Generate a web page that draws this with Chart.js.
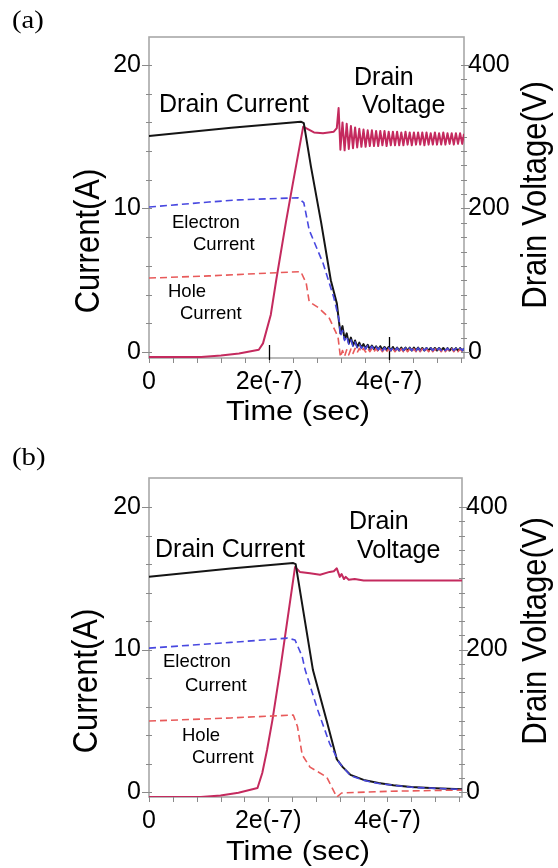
<!DOCTYPE html>
<html><head><meta charset="utf-8">
<script src="https://cdn.jsdelivr.net/npm/chart.js@4.4.1/dist/chart.umd.min.js"></script>
<style>
html,body{margin:0;padding:0;background:#fff;}
#wrap{position:relative;width:558px;height:868px;overflow:hidden;}
.panel{position:absolute;left:0;width:558px;height:428px;}
</style></head><body>
<div id="wrap">
<div class="panel" style="top:0"><canvas id="ca" width="558" height="428"></canvas></div>
<div class="panel" style="top:440px"><canvas id="cb" width="558" height="428"></canvas></div>
</div>
<script>
// ---- axis ticks (time in units of 1e-7 s) ----
const X_TICKS = [0, 2, 4];
const X_MINOR = [0, 0.4, 0.8, 1.2, 1.6, 2.0, 2.4, 2.8, 3.2, 3.6, 4.0, 4.4, 4.8, 5.2];
const Y_TICKS = [0, 10, 20];
const Y_MINOR = [0, 2, 4, 6, 8, 10, 12, 14, 16, 18, 20];
const Y1_TICKS = [0, 200, 400];
const Y1_MINOR = [0, 20, 40, 60, 80, 100, 120, 140, 160, 180, 200, 220, 240, 260, 280, 300, 320, 340, 360, 380, 400];

// ---- panel (a) ----
const aDrainT = [0, 1.37, 2.53, 2.58, 2.7, 2.87, 3.03, 3.13, 3.17];
const aDrainI = [15.05, 15.62, 16.05, 15.95, 12.9, 9.0, 5.0, 3.4, 2.0];
const aElecT = [0, 1.0, 1.5, 2.48, 2.58, 2.67, 2.9, 3.08, 3.17];
const aElecI = [10.1, 10.45, 10.6, 10.75, 10.4, 8.5, 6.2, 3.8, 2.2];
const aHoleT = [0, 1.0, 2.0, 2.53, 2.62, 2.67, 2.82, 3.0, 3.15];
const aHoleI = [5.15, 5.3, 5.5, 5.6, 4.8, 3.5, 3.1, 2.4, 1.05];
const aVoltT = [0, 0.5, 0.87, 1.2, 1.5, 1.83, 1.9, 2.03, 2.12, 2.28, 2.4, 2.57, 2.75, 2.9, 3.08, 3.13, 3.16];
const aVoltV = [-7, -7, -7, -5, -2, 3, 12, 52, 100, 180, 236, 314, 306, 305, 307, 312, 340];
// ringing tail after turn-off
const aTailT = [3.19, 3.225, 3.26, 3.295, 3.33, 3.365, 3.40, 3.435, 3.47, 3.505, 3.54, 3.575, 3.61, 3.645, 3.68, 3.715, 3.75, 3.785, 3.82, 3.855, 3.89, 3.925, 3.96, 3.995, 4.03, 4.065, 4.10, 4.135, 4.17, 4.205, 4.24, 4.275, 4.31, 4.345, 4.38, 4.415, 4.45, 4.485, 4.52, 4.555, 4.59, 4.625, 4.66, 4.695, 4.73, 4.765, 4.80, 4.835, 4.87, 4.905, 4.94, 4.975, 5.01, 5.045, 5.08, 5.115, 5.15, 5.185, 5.22, 5.25];
const aVoltTailV = [282, 320, 281, 318, 283, 315, 284, 313, 285, 311, 286, 310, 286, 309, 287, 309, 287, 308, 287, 308, 288, 308, 287, 307, 288, 307, 288, 307, 288, 306, 288, 307, 289, 306, 288, 306, 289, 306, 289, 306, 288, 306, 289, 305, 289, 306, 289, 305, 289, 306, 289, 305, 290, 305, 289, 305, 290, 305, 290, 304];
const aDrainTailI = [1.3, 1.8, 0.9, 1.3, 0.6, 1.0, 0.45, 0.8, 0.35, 0.65, 0.3, 0.55, 0.25, 0.5, 0.2, 0.45, 0.2, 0.4, 0.15, 0.4, 0.15, 0.35, 0.15, 0.35, 0.1, 0.35, 0.1, 0.3, 0.1, 0.3, 0.1, 0.3, 0.1, 0.3, 0.1, 0.3, 0.1, 0.3, 0.1, 0.28, 0.1, 0.28, 0.1, 0.28, 0.1, 0.28, 0.1, 0.28, 0.1, 0.28, 0.1, 0.27, 0.1, 0.27, 0.1, 0.27, 0.1, 0.27, 0.1, 0.26];
const aElecTailI = [1.1, 1.5, 0.8, 1.1, 0.55, 0.85, 0.4, 0.7, 0.3, 0.55, 0.25, 0.5, 0.2, 0.45, 0.2, 0.4, 0.15, 0.35, 0.15, 0.35, 0.1, 0.3, 0.1, 0.3, 0.1, 0.3, 0.1, 0.28, 0.1, 0.28, 0.1, 0.28, 0.1, 0.28, 0.1, 0.28, 0.1, 0.28, 0.1, 0.27, 0.1, 0.27, 0.1, 0.27, 0.1, 0.27, 0.1, 0.27, 0.1, 0.26, 0.1, 0.26, 0.1, 0.26, 0.1, 0.26, 0.1, 0.26, 0.1, 0.25];
const aHoleTailI = [-0.35, 0.1, -0.3, 0.15, -0.2, 0.2, -0.1, 0.25, -0.05, 0.25, 0.0, 0.25, 0.0, 0.25, 0.02, 0.24, 0.02, 0.24, 0.02, 0.23, 0.02, 0.23, 0.02, 0.23, 0.02, 0.22, 0.02, 0.22, 0.02, 0.22, 0.02, 0.22, 0.02, 0.22, 0.02, 0.22, 0.02, 0.22, 0.02, 0.22, 0.02, 0.22, 0.02, 0.22, 0.02, 0.22, 0.02, 0.22, 0.02, 0.22, 0.02, 0.22, 0.02, 0.22, 0.02, 0.22, 0.02, 0.22, 0.02, 0.22];

// ---- panel (b) ----
const bDrainT = [0, 1.37, 2.42, 2.46, 2.6, 2.75, 2.98, 3.15, 3.25, 3.38, 3.6, 3.85, 4.1, 4.4, 4.8, 5.25];
const bDrainI = [15.1, 15.68, 16.07, 16.0, 12.4, 8.56, 5.0, 2.3, 1.75, 1.2, 0.85, 0.63, 0.48, 0.35, 0.26, 0.2];
const bElecT = [0, 1.37, 2.32, 2.45, 2.57, 2.62, 2.83, 3.03, 3.2, 3.38, 3.6, 3.85, 4.4, 5.25];
const bElecI = [10.1, 10.5, 10.8, 10.67, 9.5, 8.56, 5.75, 3.4, 2.0, 1.15, 0.82, 0.6, 0.33, 0.18];
const bHoleT = [0, 1.37, 2.42, 2.49, 2.57, 2.7, 2.98, 3.15, 3.23, 4.0, 5.25];
const bHoleI = [4.98, 5.2, 5.4, 4.6, 2.6, 1.75, 1.05, -0.35, -0.07, 0.05, 0.14];
const bVoltT = [0, 0.87, 1.2, 1.5, 1.82, 1.9, 1.98, 2.07, 2.2, 2.45, 2.53, 2.7, 2.87, 3.03, 3.1, 3.15, 3.2, 3.23, 3.27, 3.3, 3.35, 3.45, 3.6, 4.0, 5.25];
const bVoltV = [-7, -7, -5, -1, 5.6, 26.7, 59, 101, 171, 316, 309, 307, 305, 309, 310, 314, 302, 306, 299, 302, 298, 299, 297, 297, 297];

const C_DRAIN = '#151515', C_VOLT = '#c42a5e', C_ELEC = '#4848e0', C_HOLE = '#e85a5a';
const FONT = '"Liberation Sans", Arial, sans-serif';
const SERIF = '"Liberation Serif", "Times New Roman", serif';

function pts(ts, vs) { return ts.map((t, i) => ({ x: t, y: vs[i] })); }

function decorPlugin(cfg) {
  return {
    id: 'decor',
    beforeDatasetsDraw(chart) {
      const { ctx, chartArea: a, scales } = chart;
      const seg = (x1, y1, x2, y2) => { ctx.beginPath(); ctx.moveTo(x1, y1); ctx.lineTo(x2, y2); ctx.stroke(); };
      ctx.save();
      ctx.strokeStyle = '#a8a8a8'; ctx.lineWidth = 1.6;
      ctx.strokeRect(a.left, a.top, a.right - a.left, a.bottom - a.top);
      ctx.strokeStyle = '#8a8a8a'; ctx.lineWidth = 1;
      Y_MINOR.forEach(v => { const y = Math.round(scales.y.getPixelForValue(v)) + 0.5; seg(a.left - 3, y, a.left + 3, y); });
      Y_TICKS.forEach(v => { const y = Math.round(scales.y.getPixelForValue(v)) + 0.5; seg(a.left - 7, y, a.left, y); });
      Y1_MINOR.forEach(v => { const y = Math.round(scales.y1.getPixelForValue(v)) + 0.5; seg(a.right - 3, y, a.right + 3, y); });
      Y1_TICKS.forEach(v => { const y = Math.round(scales.y1.getPixelForValue(v)) + 0.5; seg(a.right, y, a.right + 6, y); });
      X_MINOR.forEach(v => { const x = Math.round(scales.x.getPixelForValue(v)) + 0.5; seg(x, a.bottom, x, a.bottom + 5); });
      ctx.strokeStyle = '#000'; ctx.lineWidth = 1.3;
      (cfg.longTicks || []).forEach(lt => { const x = Math.round(scales.x.getPixelForValue(lt.v)) + 0.5; seg(x, a.bottom - lt.len, x, a.bottom + 2); });
      ctx.restore();
    },
    afterDraw(chart) {
      const ctx = chart.ctx;
      ctx.save();
      ctx.fillStyle = '#000';
      cfg.texts.forEach(tx => {
        ctx.save();
        ctx.font = tx.font;
        ctx.textAlign = tx.align || 'left';
        ctx.textBaseline = 'alphabetic';
        ctx.translate(tx.x, tx.y);
        if (tx.rot) ctx.rotate(tx.rot);
        ctx.scale(tx.sx || 1, tx.sy || 1);
        ctx.fillText(tx.t, 0, 0);
        ctx.restore();
      });
      ctx.restore();
    }
  };
}

function makeChart(id, cfg) {
  const tickFont = { family: FONT, size: 25 };
  new Chart(document.getElementById(id), {
    type: 'line',
    data: {
      datasets: [
        { data: pts(cfg.elecT, cfg.elecI), yAxisID: 'y', borderColor: C_ELEC, borderWidth: 1.6, borderDash: [7, 4] },
        { data: pts(cfg.holeT, cfg.holeI), yAxisID: 'y', borderColor: C_HOLE, borderWidth: 1.6, borderDash: [7, 4] },
        { data: pts(cfg.drainT, cfg.drainI), yAxisID: 'y', borderColor: C_DRAIN, borderWidth: 2 },
        { data: pts(cfg.voltT, cfg.voltV), yAxisID: 'y1', borderColor: C_VOLT, borderWidth: 2 }
      ]
    },
    options: {
      responsive: false, animation: false, devicePixelRatio: 1,
      parsing: false, normalized: true,
      elements: { point: { radius: 0 }, line: { tension: 0, fill: false, borderCapStyle: 'butt', borderJoinStyle: 'round' } },
      layout: { padding: { top: cfg.top, left: 0, right: 0, bottom: 0 } },
      plugins: { legend: { display: false }, tooltip: { enabled: false }, title: { display: false } },
      scales: {
        x: {
          type: 'linear', position: 'bottom', min: 0, max: 5.25,
          afterBuildTicks: s => { s.ticks = X_TICKS.map(v => ({ value: v })); },
          afterFit: s => { s.height = cfg.xHeight; },
          ticks: { font: tickFont, color: '#000', padding: 9, maxRotation: 0, autoSkip: false,
                   callback: v => v === 0 ? '0' : v + 'e(-7)' },
          grid: { display: false, drawTicks: false }, border: { display: false }
        },
        y: {
          type: 'linear', position: 'left', min: cfg.yMin, max: cfg.yMax,
          afterBuildTicks: s => { s.ticks = Y_TICKS.map(v => ({ value: v })); },
          afterFit: s => { s.width = 149; },
          ticks: { font: tickFont, color: '#000', padding: 8, autoSkip: false },
          grid: { display: false, drawTicks: false }, border: { display: false }
        },
        y1: {
          type: 'linear', position: 'right', min: cfg.y1Min, max: cfg.y1Max,
          afterBuildTicks: s => { s.ticks = Y1_TICKS.map(v => ({ value: v })); },
          afterFit: s => { s.width = cfg.y1Width; },
          ticks: { font: tickFont, color: '#000', padding: 4, autoSkip: false },
          grid: { display: false, drawTicks: false }, border: { display: false }
        }
      }
    },
    plugins: [decorPlugin(cfg)]
  });
}

const R = -Math.PI / 2;
function panelTexts(p) {
  return [
    { t: p.tag, x: 12, y: p.tagY, font: '25px ' + SERIF, sx: 1.15 },
    { t: 'Drain Current', x: p.dc[0], y: p.dc[1], font: '25px ' + FONT },
    { t: 'Drain', x: p.dv1[0], y: p.dv1[1], font: '25px ' + FONT },
    { t: 'Voltage', x: p.dv2[0], y: p.dv2[1], font: '25px ' + FONT },
    { t: 'Electron', x: p.e1[0], y: p.e1[1], font: '18.5px ' + FONT },
    { t: 'Current', x: p.e2[0], y: p.e2[1], font: '18.5px ' + FONT },
    { t: 'Hole', x: p.h1[0], y: p.h1[1], font: '18.5px ' + FONT },
    { t: 'Current', x: p.h2[0], y: p.h2[1], font: '18.5px ' + FONT },
    { t: 'Current(A)', x: p.cl[0], y: p.cl[1], rot: R, align: 'center', font: '31px ' + FONT, sy: 1.12 },
    { t: 'Drain Voltage(V)', x: p.vl[0], y: p.vl[1], rot: R, align: 'center', font: '31px ' + FONT, sy: 1.12 },
    { t: 'Time (sec)', x: 298, y: 420, align: 'center', font: '28.5px ' + FONT, sx: 1.08 }
  ];
}

makeChart('ca', {
  drainT: aDrainT.concat(aTailT), drainI: aDrainI.concat(aDrainTailI),
  elecT: aElecT.concat(aTailT), elecI: aElecI.concat(aElecTailI),
  holeT: aHoleT.concat(aTailT), holeI: aHoleI.concat(aHoleTailI),
  voltT: aVoltT.concat(aTailT), voltV: aVoltV.concat(aVoltTailV),
  yMin: -0.42, yMax: 21.95, y1Min: -8.4, y1Max: 439,
  top: 37, xHeight: 70, y1Width: 94,
  longTicks: [{ v: 2, len: 13 }, { v: 4, len: 21 }],
  texts: panelTexts({ tag: '(a)', tagY: 28, dc: [159, 112], dv1: [354, 85], dv2: [362, 113],
    e1: [172, 228], e2: [193, 250], h1: [168, 297], h2: [180, 319], cl: [99, 241], vl: [546, 195] })
});

makeChart('cb', {
  drainT: bDrainT, drainI: bDrainI,
  elecT: bElecT, elecI: bElecI,
  holeT: bHoleT, holeI: bHoleI,
  voltT: bVoltT, voltV: bVoltV,
  yMin: -0.35, yMax: 22.04, y1Min: -7, y1Max: 440.8,
  top: 38, xHeight: 71, y1Width: 96,
  longTicks: [],
  texts: panelTexts({ tag: '(b)', tagY: 25, dc: [155, 117], dv1: [349, 89], dv2: [357, 118],
    e1: [163, 227], e2: [185, 251], h1: [182, 301], h2: [192, 323], cl: [97, 241], vl: [546, 191] })
});
</script>
</body></html>
